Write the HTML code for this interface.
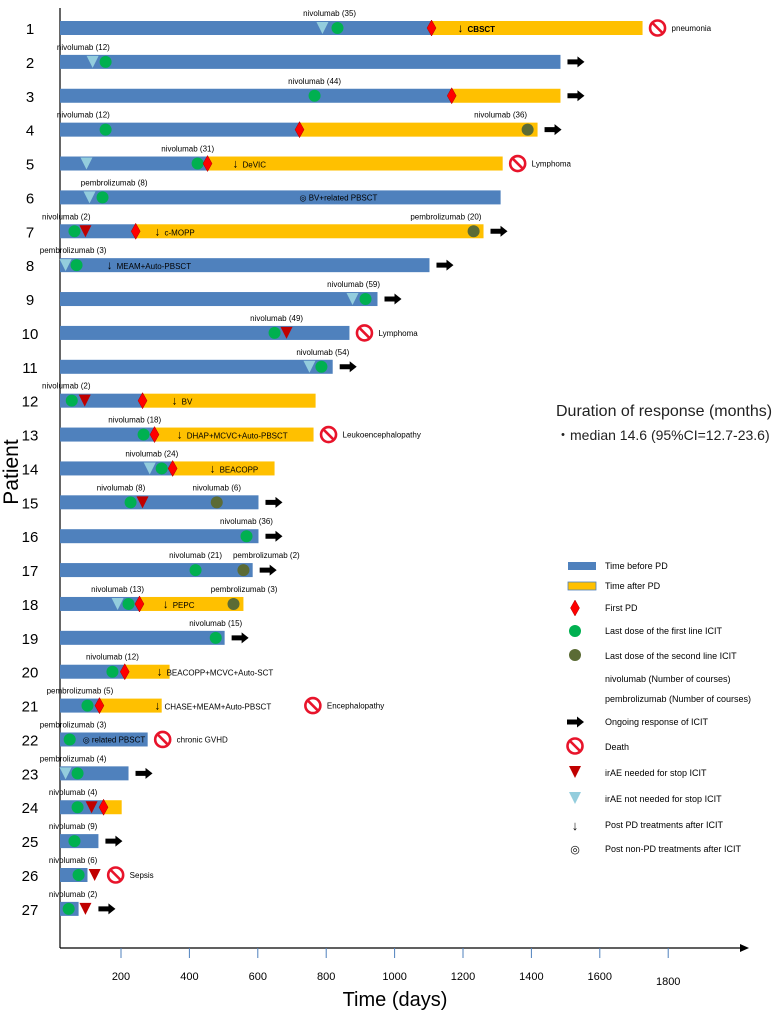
<!DOCTYPE html>
<html><head><meta charset="utf-8"><style>
html,body{margin:0;padding:0;background:#fff;}
svg{display:block;font-family:"Liberation Sans",Arial,sans-serif;}
</style></head><body>
<svg id="chart" width="784" height="1013" viewBox="0 0 784 1013" xmlns="http://www.w3.org/2000/svg">
<g id="axes"></g>
<g id="rows"></g>
<g id="legend"></g>
<text x="556" y="416" font-size="16" fill="#222">Duration of response (months)</text>
<text x="556" y="440" font-size="14" fill="#222">・median 14.6 (95%CI=12.7-23.6)</text>
<text transform="translate(18,472) rotate(-90)" text-anchor="middle" font-size="21" fill="#000">Patient</text>
<text x="395" y="1006" text-anchor="middle" font-size="20" fill="#000">Time (days)</text>
</svg>
<script>
const patients=[1,2,3,4,5,6,7,8,9,10,11,12,13,14,15,16,17,18,19,20,21,22,23,24,25,26,27];
const pdDay=[1108,null,1167,722,453,null,243,null,null,null,null,263,298,351,null,null,null,254,null,211,137,null,null,149,null,null,null];
const endDay=[1725,1485,1485,1418,1316,1310,1260,1102,950,868,819,769,763,649,602,602,585,558,503,342,319,278,222,202,134,102,76];
const circleDay=[833,155,766,155,424,146,64,70,915,649,786,56,266,319,228,567,418,222,477,175,102,50,73,73,64,76,47];
const secondDay=[null,null,null,1389,null,null,1231,null,null,null,null,null,null,null,480,null,558,529,null,null,null,null,null,null,null,null,null];
const triDay=[789,117,null,null,99,108,null,38,877,null,751,null,null,284,null,null,null,190,null,null,null,null,38,null,null,null,null];
const redTriDay=[null,null,null,null,null,null,96,null,null,684,null,94,null,null,263,null,null,null,null,null,null,null,null,114,null,123,96];
const outcome=["death","ongoing","ongoing","ongoing","death","none","ongoing","ongoing","ongoing","death","ongoing","none","death","none","ongoing","ongoing","ongoing","none","ongoing","none","death","death","ongoing","none","ongoing","death","ongoing"];
const outcomeDay=[null,null,null,null,null,null,null,null,null,null,null,null,null,null,null,null,null,null,null,null,761,null,null,null,null,null,null];
const outcomeText=["pneumonia","","","","Lymphoma","","","","","Lymphoma","","","Leukoencephalopathy","","","","","","","","Encephalopathy","chronic GVHD","","","","Sepsis",""];
const drugLabel=["nivolumab (35)","nivolumab (12)","nivolumab (44)","nivolumab (12)","nivolumab (31)","pembrolizumab (8)","nivolumab (2)","pembrolizumab (3)","nivolumab (59)","nivolumab (49)","nivolumab (54)","nivolumab (2)","nivolumab (18)","nivolumab (24)","nivolumab (8)","nivolumab (36)","nivolumab (21)","nivolumab (13)","nivolumab (15)","nivolumab (12)","pembrolizumab (5)","pembrolizumab (3)","pembrolizumab (4)","nivolumab (4)","nivolumab (9)","nivolumab (6)","nivolumab (2)"];
const drugLabelDay=[810,90,766,90,395,180,40,60,880,655,790,40,240,290,200,567,418,190,477,175,80,60,60,60,60,60,60];
const drug2Label=["","","","nivolumab (36)","","","pembrolizumab (20)","","","","","","","","nivolumab (6)","","pembrolizumab (2)","pembrolizumab (3)","","","","","","","","",""];
const drug2Day=[0,0,0,1310,0,0,1150,0,0,0,0,0,0,0,480,0,625,560,0,0,0,0,0,0,0,0,0];
const txText=["CBSCT","","","","DeVIC","BV+related PBSCT","c-MOPP","MEAM+Auto-PBSCT","","","","BV","DHAP+MCVC+Auto-PBSCT","BEACOPP","","","","PEPC","","BEACOPP+MCVC+Auto-SCT","CHASE+MEAM+Auto-PBSCT","related PBSCT","","","","",""];
const txType=["pd","","","","pd","nonpd","pd","pd","","","","pd","pd","pd","","","","pd","","pd","pd","nonpd","","","","",""];
const txDay=[1184,0,0,0,526,722,298,158,0,0,0,348,363,459,0,0,0,322,0,304,298,88,0,0,0,0,0];
const xTicks=[200,400,600,800,1000,1200,1400,1600,1800];

const NS="http://www.w3.org/2000/svg";
const X0=60, AXY=948;
function x(d){return 52.6+0.342*d;}
function y(i){return 28+i*33.88;}
function mk(tag,attrs,parent,txt){const e=document.createElementNS(NS,tag);for(const k in attrs)e.setAttribute(k,attrs[k]);if(txt!==undefined)e.textContent=txt;parent.appendChild(e);return e;}

const axes=document.getElementById('axes');
let el=mk('line',{x1:X0,y1:8,x2:X0,y2:AXY,stroke:'#000','stroke-width':1.2},axes);


el=mk('line',{x1:X0,y1:AXY,x2:742,y2:AXY,stroke:'#000','stroke-width':1.2},axes);


el=mk('polygon',{points:'740,944 749,948 740,952',fill:'#000'},axes);


xTicks.forEach((t,k)=>{
  const tl=mk('line',{x1:x(t),y1:AXY,x2:x(t),y2:AXY+10,stroke:'#4f81bd','stroke-width':1},axes);
  
  
  const tx=mk('text',{x:x(t),y:AXY+(t===1800?37:32),'text-anchor':'middle','font-size':11,fill:'#000'},axes,String(t));
  
  
});

const rows=document.getElementById('rows');
function death(g,cx,cy){
  const c=mk('g',{},g);
  
  
  mk('circle',{cx:cx,cy:cy,r:7.5,fill:'#fff',stroke:'#e8142b','stroke-width':2.6},c);
  mk('line',{x1:cx-5,y1:cy-5,x2:cx+5,y2:cy+5,stroke:'#e8142b','stroke-width':2.6},c);
}
function arrowR(g,ax,cy){
  const a=mk('polygon',{points:`${ax},${cy-2.5} ${ax+10},${cy-2.5} ${ax+10},${cy-5.5} ${ax+17},${cy} ${ax+10},${cy+5.5} ${ax+10},${cy+2.5} ${ax},${cy+2.5}`,fill:'#000'},g);
  
  
}
function diamond(g,cx,cy){
  const d=mk('polygon',{points:`${cx},${cy-8} ${cx+4.5},${cy} ${cx},${cy+8} ${cx-4.5},${cy}`,fill:'#ff0000',stroke:'#a00','stroke-width':0.5},g);
  
  
}
function tri(g,cx,cy,col,name){
  const t=mk('polygon',{points:`${cx-6},${cy-6} ${cx+6},${cy-6} ${cx},${cy+6}`,fill:col},g);
  
  
}
function dot(g,cx,cy,col,name){
  const c=mk('circle',{cx:cx,cy:cy,r:6,fill:col},g);
  
  
}
patients.forEach((p,i)=>{
  const cy=y(i);
  const g=mk('g',{},rows);
  
  
  const lb=mk('text',{x:30,y:cy+6,'text-anchor':'middle','font-size':15,fill:'#000'},g,String(p));
  
  
  const pd=pdDay[i];
  const blueEnd=pd!==null?x(pd):x(endDay[i]);
  if(pd!==null){
    const yb=mk('rect',{x:x(pd),y:cy-7,width:x(endDay[i])-x(pd),height:14,fill:'#ffc000'},g);
    
    
  }
  const bb=mk('rect',{x:X0,y:cy-7,width:blueEnd-X0,height:14,fill:'#4f81bd'},g);
  
  
  let last=x(endDay[i]);
  if(triDay[i]!==null){tri(g,x(triDay[i]),cy,'#93cddd','irae-not-needed-marker');}
  dot(g,x(circleDay[i]),cy,'#00b050','last-dose-first-line');
  if(redTriDay[i]!==null){tri(g,x(redTriDay[i]),cy,'#c00000','irae-stop-marker');last=Math.max(last,x(redTriDay[i])+6);}
  if(secondDay[i]!==null){dot(g,x(secondDay[i]),cy,'#5b6b35','last-dose-second-line');}
  if(pd!==null)diamond(g,x(pd),cy);
  if(txType[i]==='pd'){
    const t=mk('text',{x:x(txDay[i]),y:cy+4,'font-size':8,fill:'#000','font-weight':i===0?'bold':'normal'},g);
    
    
    mk('tspan',{'font-size':12,'font-weight':'normal'},t,'↓');
    mk('tspan',{dx:4},t,txText[i]);
  } else if(txType[i]==='nonpd'){
    const t=mk('text',{x:x(txDay[i]),y:cy+3,'font-size':8,fill:'#000'},g,'◎ '+txText[i]);
    
    
  }
  const dl=mk('text',{x:x(drugLabelDay[i]),y:cy-12,'text-anchor':'middle','font-size':8,fill:'#000'},g,drugLabel[i]);
  
  
  if(drug2Label[i]){
    const d2=mk('text',{x:x(drug2Day[i]),y:cy-12,'text-anchor':'middle','font-size':8,fill:'#000'},g,drug2Label[i]);
    
    
  }
  if(outcome[i]==='ongoing'){arrowR(g,last+7,cy);}
  else if(outcome[i]==='death'){
    const dx=outcomeDay[i]!==null?x(outcomeDay[i]):last+15;
    death(g,dx,cy);
    const ot=mk('text',{x:dx+14,y:cy+3,'font-size':8,fill:'#000'},g,outcomeText[i]);
    
    
  }
});

const lg=document.getElementById('legend');
const LX=575, TX=605;
function ltext(yy,s){const t=mk('text',{x:TX,y:yy+3,'font-size':9,fill:'#000'},lg,s);}
el=mk('rect',{x:568,y:562,width:28,height:8,fill:'#4f81bd'},lg);ltext(566,'Time before PD');
el=mk('rect',{x:568,y:582,width:28,height:8,fill:'#ffc000',stroke:'#4f81bd','stroke-width':0.8},lg);ltext(586,'Time after PD');
diamond(lg,LX,608);ltext(608,'First PD');
dot(lg,LX,631,'#00b050','legend-first-line-dot');ltext(631,'Last dose of the first line ICIT');
dot(lg,LX,655,'#5b6b35','legend-second-line-dot');ltext(656,'Last dose of the second  line ICIT');
ltext(679,'nivolumab (Number of courses)');
ltext(699,'pembrolizumab (Number of courses)');
arrowR(lg,LX-8,722);ltext(722,'Ongoing response of ICIT');
death(lg,LX,746);ltext(747,'Death');
tri(lg,LX,772,'#c00000','legend-irae-stop');ltext(773,'irAE needed for stop ICIT');
tri(lg,LX,798,'#93cddd','legend-irae-not-needed');ltext(799,'irAE not needed for stop ICIT');
el=mk('text',{x:LX,y:830,'font-size':13,'text-anchor':'middle',fill:'#000'},lg,'↓');ltext(825,'Post PD treatments after ICIT');
el=mk('text',{x:LX,y:853,'font-size':11,'text-anchor':'middle',fill:'#000'},lg,'◎');ltext(849,'Post non-PD treatments after ICIT');
</script>
</body></html>
